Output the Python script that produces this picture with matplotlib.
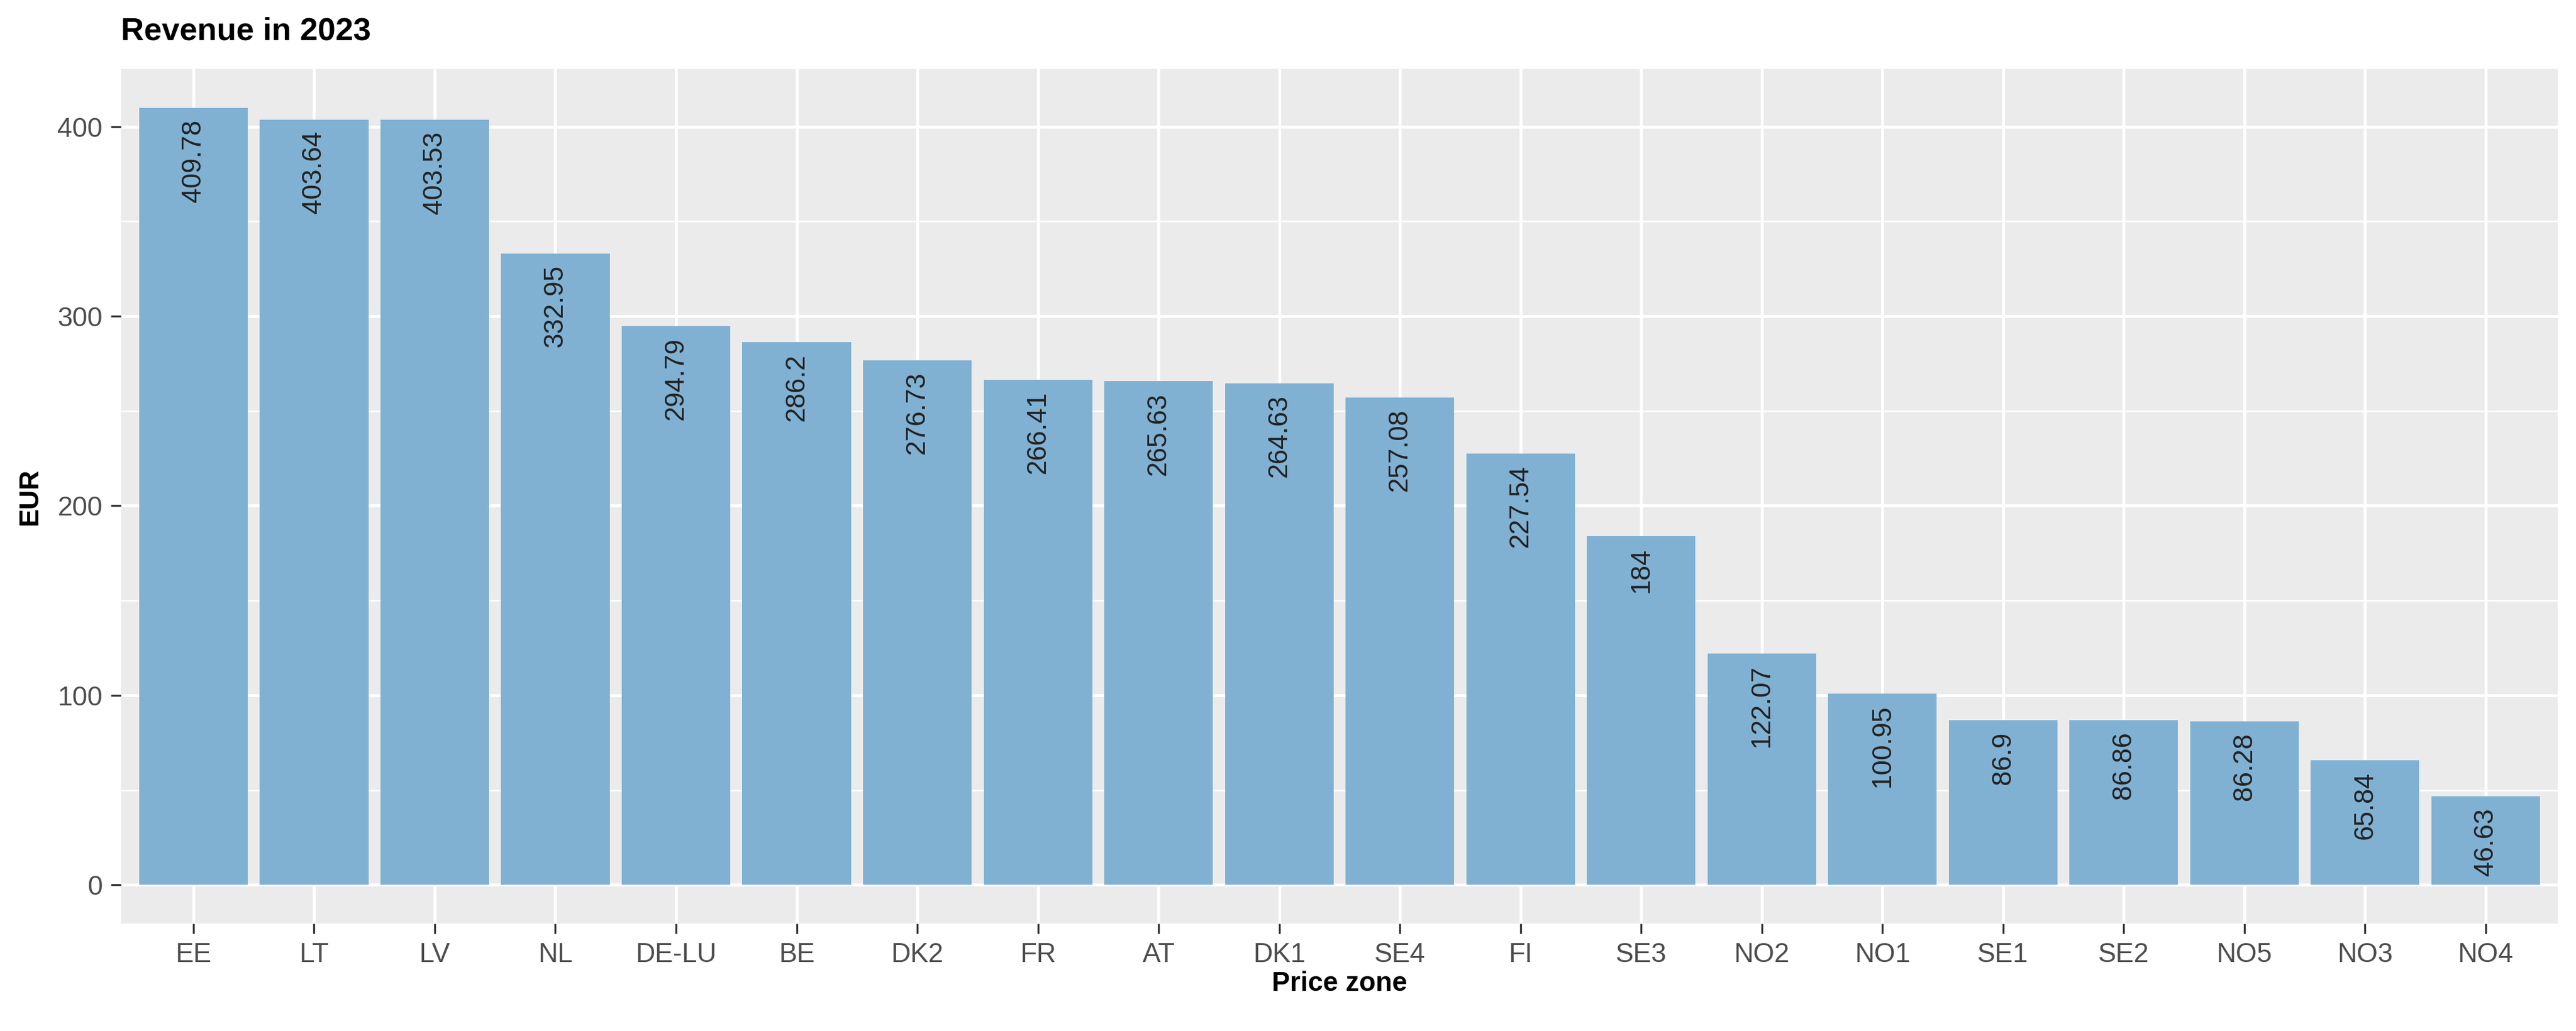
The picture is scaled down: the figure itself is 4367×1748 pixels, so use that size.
import matplotlib
matplotlib.use("Agg")
import matplotlib.pyplot as plt

zones = ["EE","LT","LV","NL","DE-LU","BE","DK2","FR","AT","DK1","SE4","FI","SE3","NO2","NO1","SE1","SE2","NO5","NO3","NO4"]
revenue = [409.78,403.64,403.53,332.95,294.79,286.2,276.73,266.41,265.63,264.63,257.08,227.54,184,122.07,100.95,86.9,86.86,86.28,65.84,46.63]
labels = ["409.78","403.64","403.53","332.95","294.79","286.2","276.73","266.41","265.63","264.63","257.08","227.54","184","122.07","100.95","86.9","86.86","86.28","65.84","46.63"]

plt.rcParams['font.family'] = ['Liberation Sans', 'DejaVu Sans']
fig = plt.figure(figsize=(4367/300, 1748/300), dpi=300)
ax = fig.add_axes([0.047, 0.104, 0.946, 0.829])
ax.set_facecolor("#EBEBEB")
x = list(range(len(zones)))
ax.bar(x, revenue, width=0.9, color="#80B1D3", zorder=3)
for xi, v, l in zip(x, revenue, labels):
    ax.text(xi, v - 6, l, rotation=90, ha="center", va="top", fontsize=11, color="#222222", zorder=4)
ax.set_xlim(-0.6, len(zones) - 0.4)
ax.set_ylim(-20.5, 430.3)
ax.set_xticks(x)
ax.set_xticklabels(zones)
ax.set_yticks([0, 100, 200, 300, 400])
ax.set_yticks([50, 150, 250, 350], minor=True)
ax.grid(True, which="major", color="white", linewidth=1.2, zorder=0)
ax.grid(True, which="minor", axis="y", color="white", linewidth=0.6, zorder=0)
ax.tick_params(axis="both", which="major", labelsize=11, colors="#4D4D4D", length=4, width=0.8, color="#333333")
ax.tick_params(axis="y", which="minor", length=0)
for lab in ax.get_xticklabels() + ax.get_yticklabels():
    lab.set_color("#4D4D4D")
for s in ax.spines.values():
    s.set_visible(False)
ax.set_xlabel("Price zone", fontsize=11, fontweight="bold", labelpad=1)
ax.set_ylabel("EUR", fontsize=11, fontweight="bold", labelpad=6)
fig.text(0.047, 0.955, "Revenue in 2023", fontsize=13, fontweight="bold", ha="left", va="bottom")
fig.savefig("out.png", dpi=300, facecolor="white")
